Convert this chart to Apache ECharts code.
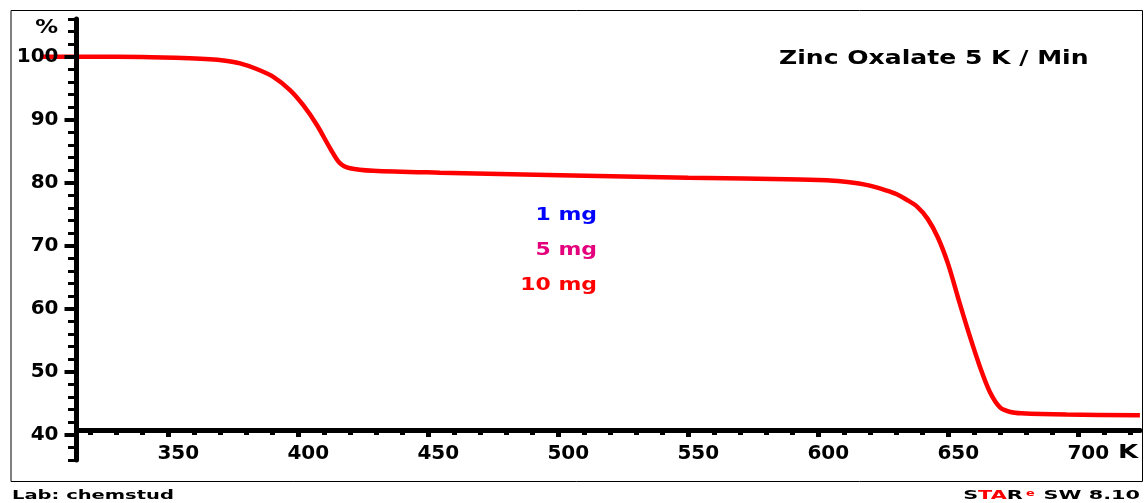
<!DOCTYPE html>
<html>
<head>
    <meta charset="utf-8"/>
    <title>Zinc Oxalate 5 K/Min</title>
    <script src="https://cdn.jsdelivr.net/npm/echarts@6/dist/echarts.min.js"></script>
    <style>
        html, body {margin: 0; padding: 0; background: #fff;}
        #main {width: 1144px; height: 503px;}
    </style>
</head>
<body>
<div id="main"></div>
<script>
    // TGA curve: temperature (K) -> mass (%)
    var temperature = [301.7, 320, 340, 358.3, 366, 371.2, 377.6, 384, 390.4, 396.8, 401.9, 407.1, 412.2, 416, 419.9, 428.8, 454.5,
        500.6, 550, 593, 606, 613.5, 618, 622, 626, 630, 634, 638, 642, 646, 650, 654, 658, 662, 666, 670, 674, 678, 695.5, 723.7];
    var massPercent = [100, 100, 99.95, 99.75, 99.6, 99.4, 98.95, 98.05, 96.8, 94.7, 92.3, 89.2, 85.5, 83.1, 82.3, 81.9, 81.6,
        81.2, 80.8, 80.5, 80.3, 80.0, 79.7, 79.3, 78.8, 78.2, 77.3, 76.2, 74.3, 71.3, 67.0, 61.4, 56.0, 51.0, 46.8, 44.3, 43.6, 43.4, 43.2, 43.1];
    var xMajorLabels = ['350', '400', '450', '500', '550', '600', '650', '700'];
    var legendNames = ['1 mg', '5 mg', '10 mg'];
    var legendColors = ['#0000ff', '#e4007c', '#ff0000'];

    var xTicks = [];
    for (var t = 320; t <= 720; t += 10) xTicks.push(String(t));

    var font = 'DejaVu Sans';
    var hidden = {show: false};

    var chart = echarts.init(document.getElementById('main'), null, {renderer: 'canvas'});

    var option = {
        animation: false,
        backgroundColor: '#fff',
        grid: [
            // 0: plot area (starts left of the y axis, like the curve)
            {left: 38.3, right: 4.1, top: 18.9, bottom: 73},
            // 1: y axis line with small ticks every 2 %
            {left: 76.5, right: 4, top: 18.9, bottom: 43.1},
            // 2: y labels and long ticks every 10 %
            {left: 76.5, right: 4, top: 56.7, bottom: 68.3},
            // 3: x ticks every 10 K
            {left: 90.3, right: 13.7, top: 18.9, bottom: 73},
            // 4: frame
            {left: 11, right: 1.5, top: 10.5, bottom: 21.5, show: true, borderColor: '#000', borderWidth: 1, backgroundColor: 'transparent'},
            // 5: x axis line
            {left: 76.5, right: 4, top: 18.9, bottom: 73}
        ],
        xAxis: [
            {gridIndex: 0, type: 'value', min: 300, max: 723.7, show: false},
            {gridIndex: 1, type: 'value', min: 0, max: 1, show: false},
            {gridIndex: 2, type: 'value', min: 0, max: 1, show: false},
            {gridIndex: 3, type: 'category', data: xTicks, boundaryGap: false, position: 'bottom',
                axisLine: hidden, splitLine: hidden, axisLabel: hidden,
                axisTick: {show: true, interval: 0, length: 5, lineStyle: {color: '#000', width: 5}}},
            {gridIndex: 3, type: 'category', data: xTicks, boundaryGap: false, position: 'bottom',
                axisLine: hidden, splitLine: hidden,
                axisTick: {
                    show: true, length: 7, lineStyle: {color: '#000', width: 5},
                    interval: function (idx, val) { return xMajorLabels.indexOf(String(val)) >= 0; }
                },
                axisLabel: {
                    interval: 0, margin: 14, padding: [0, 0, 0, 20],
                    color: '#000', fontFamily: font, fontWeight: 'bold', fontSize: 20,
                    formatter: function (v) { return xMajorLabels.indexOf(v) >= 0 ? v : ''; }
                }},
            {gridIndex: 4, type: 'value', min: 0, max: 1, show: false},
            {gridIndex: 5, type: 'value', min: 0, max: 1, position: 'bottom', z: 3,
                axisLine: {show: true, lineStyle: {color: '#000', width: 5}},
                axisTick: hidden, axisLabel: hidden, splitLine: hidden}
        ],
        yAxis: [
            {gridIndex: 0, type: 'value', min: 40.75, max: 106, show: false},
            {gridIndex: 1, type: 'value', min: 36, max: 106, interval: 2, z: 3,
                axisLine: {show: true, lineStyle: {color: '#000', width: 5}},
                axisTick: {show: true, length: 8.5, lineStyle: {color: '#000', width: 3}},
                axisLabel: hidden, splitLine: hidden},
            {gridIndex: 2, type: 'value', min: 40, max: 100, interval: 10, z: 3,
                axisLine: hidden, splitLine: hidden,
                axisTick: {show: true, length: 12, lineStyle: {color: '#000', width: 4}},
                axisLabel: {margin: 18, color: '#000', fontFamily: font, fontWeight: 'bold', fontSize: 20}},
            {gridIndex: 3, type: 'value', min: 0, max: 1, show: false},
            {gridIndex: 4, type: 'value', min: 0, max: 1, show: false},
            {gridIndex: 5, type: 'value', min: 0, max: 1, show: false}
        ],
        series: [{
            name: 'Zinc Oxalate',
            type: 'line',
            xAxisIndex: 0,
            yAxisIndex: 0,
            z: 1,
            smooth: 0.3,
            showSymbol: false,
            lineStyle: {color: '#ff0000', width: 4.5},
            data: temperature.map(function (t, i) { return [t, massPercent[i]]; })
        }],
        graphic: [
            {type: 'text', x: 58, y: 28, scaleX: 1.2,
                style: {text: '%', font: 'bold 19px "DejaVu Sans"', fill: '#000', align: 'right', verticalAlign: 'middle'}},
            {type: 'text', x: 1118, y: 452.5, scaleX: 1.3,
                style: {text: 'K', font: 'bold 20px "DejaVu Sans"', fill: '#000', align: 'left', verticalAlign: 'middle'}},
            {type: 'text', x: 779, y: 59.5, scaleX: 1.32,
                style: {text: 'Zinc Oxalate 5 K / Min', font: 'bold 19px "DejaVu Sans"', fill: '#000', align: 'left', verticalAlign: 'middle'}},
            {type: 'text', x: 597, y: 215, scaleX: 1.22,
                style: {text: legendNames[0], font: 'bold 18px "DejaVu Sans"', fill: legendColors[0], align: 'right', verticalAlign: 'middle'}},
            {type: 'text', x: 597, y: 250, scaleX: 1.22,
                style: {text: legendNames[1], font: 'bold 18px "DejaVu Sans"', fill: legendColors[1], align: 'right', verticalAlign: 'middle'}},
            {type: 'text', x: 597, y: 285, scaleX: 1.22,
                style: {text: legendNames[2], font: 'bold 18px "DejaVu Sans"', fill: legendColors[2], align: 'right', verticalAlign: 'middle'}},
            {type: 'text', x: 12, y: 496, scaleX: 1.5,
                style: {text: 'Lab: chemstud', font: 'bold 13px "DejaVu Sans"', fill: '#000', align: 'left', verticalAlign: 'middle'}},
            {type: 'text', x: 1140, y: 496, scaleX: 1.6,
                style: {
                    text: '{b|S}{r|TA}{b|R}{sup|e}{b| SW 8.10}',
                    align: 'right', verticalAlign: 'middle',
                    rich: {
                        b: {font: 'bold 13px "DejaVu Sans"', fill: '#000'},
                        r: {font: 'bold 13px "DejaVu Sans"', fill: '#ff0000'},
                        sup: {font: 'bold 8px "DejaVu Sans"', fill: '#ff0000', verticalAlign: 'top', padding: [0, 1, 0, 2]}
                    }
                }}
        ]
    };
    chart.setOption(option);

    window.onresize = function () {
        chart.resize();
    };
</script>
</body>
</html>
